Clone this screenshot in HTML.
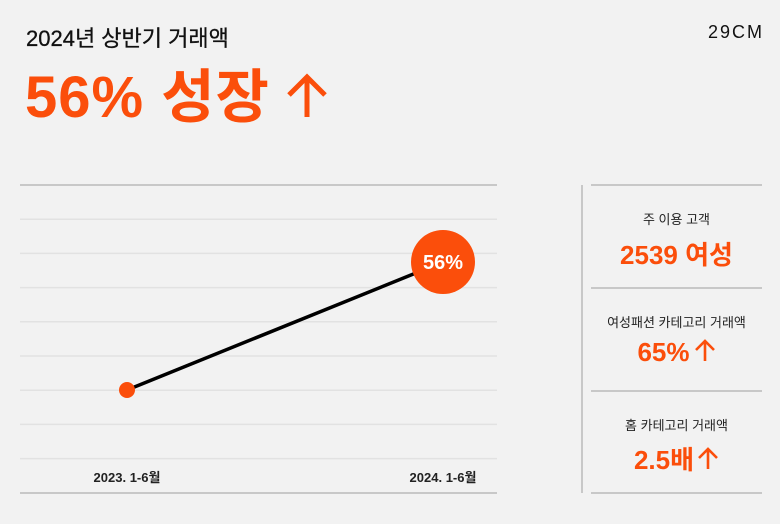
<!DOCTYPE html>
<html><head><meta charset="utf-8">
<style>
body{margin:0;background:#f2f2f2;font-family:"Liberation Sans","Noto Sans CJK KR",sans-serif;}
#root{position:relative;width:780px;height:524px;overflow:hidden;background:#f2f2f2;}
.abs{position:absolute;white-space:nowrap;}
.or{color:#fb4e0b;}
.lbl{font-size:13px;color:#222;text-align:center;width:171px;left:591px;}
.val{font-size:26px;font-weight:bold;text-align:center;width:171px;left:591px;color:#fb4e0b;}
.arr{display:inline-block;vertical-align:baseline;}
</style></head><body>
<div id="root">
<div class="abs" style="left:26px;top:21px;font-size:22px;color:#111;-webkit-text-stroke:0.3px #111;">2024년 상반기 거래액</div>
<div class="abs or" style="left:25px;top:50px;font-size:58px;font-weight:bold;letter-spacing:1px;">56% 성장 <svg class="arr" width="44" height="44" viewBox="0 0 44 44" style="margin-left:-2px"><path d="M22 44V4M4 22L22 4L40 22" fill="none" stroke="#fb4e0b" stroke-width="5"/></svg></div>
<div class="abs" style="left:708px;top:22px;font-size:18px;letter-spacing:2px;color:#111;">29CM</div>
<svg class="abs" style="left:0;top:0" width="780" height="524">
<g id="grid"></g><g id="marks"></g>
<line x1="582" y1="185" x2="582" y2="493" stroke="#c8c8c8" stroke-width="2"/>
<line x1="591" y1="185" x2="762" y2="185" stroke="#c8c8c8" stroke-width="2"/>
<line x1="591" y1="288" x2="762" y2="288" stroke="#c8c8c8" stroke-width="2"/>
<line x1="591" y1="391" x2="762" y2="391" stroke="#c8c8c8" stroke-width="2"/>
<line x1="591" y1="493" x2="762" y2="493" stroke="#c8c8c8" stroke-width="2"/>
</svg>
<div class="abs lbl" style="top:209px;">주 이용 고객</div>
<div class="abs val" style="top:235px;">2539 여성</div>
<div class="abs lbl" style="top:312px;">여성패션 카테고리 거래액</div>
<div class="abs val" style="top:337px;">65%<svg class="arr" width="22" height="22" viewBox="0 0 22 22" style="margin-left:4px"><path d="M11 22V2M2 11L11 2L20 11" fill="none" stroke="#fb4e0b" stroke-width="2.6"/></svg></div>
<div class="abs lbl" style="top:415px;">홈 카테고리 거래액</div>
<div class="abs val" style="top:440px;">2.5배<svg class="arr" width="22" height="22" viewBox="0 0 22 22" style="margin-left:3px"><path d="M11 22V2M2 11L11 2L20 11" fill="none" stroke="#fb4e0b" stroke-width="2.6"/></svg></div>
</div>
<script>
const categories=["2023. 1-6월","2024. 1-6월"];
const values=[100,156];
const labels=["","56%"];
const NS="http://www.w3.org/2000/svg";
const xs=i=>127+i*316;
const ys=v=>390-(v-100)*(128/56);
const grid=document.getElementById('grid'),marks=document.getElementById('marks');
function mk(t,a,p){const e=document.createElementNS(NS,t);for(const k in a)e.setAttribute(k,a[k]);p.appendChild(e);return e;}
for(let i=0;i<=9;i++){const y=185+i*34.2;const last=i===9;const main=i===0||last;
const l=mk('line',{x1:20,x2:497,y1:last?493:y,y2:last?493:y,stroke:main?'#c8c8c8':'#e2e2e2','stroke-width':main?2:1.5},grid);

}
const pts=values.map((v,i)=>xs(i)+','+ys(v)).join(' ');
const pl=mk('polyline',{points:pts,fill:'none',stroke:'#000','stroke-width':3.5},marks);


values.forEach((v,i)=>{
const big=labels[i]!=="";
const c=mk('circle',{cx:xs(i),cy:ys(v),r:big?32:8,fill:'#fb4e0b'},marks);


if(big){const t=mk('text',{x:xs(i),y:ys(v)+7,'text-anchor':'middle','font-size':20,'font-weight':'bold',fill:'#fff'},marks);t.textContent=labels[i];

}
const tx=mk('text',{x:xs(i),y:482,'text-anchor':'middle','font-size':13,'font-weight':'bold',fill:'#222'},marks);tx.textContent=categories[i];


});
</script>
</body></html>
